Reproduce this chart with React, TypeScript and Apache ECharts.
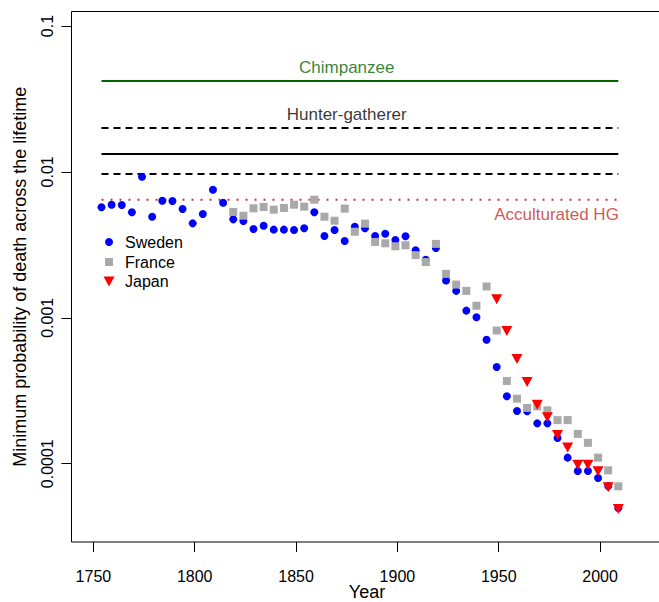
import React, { useEffect, useRef } from "react";
import * as echarts from "echarts";

// ---- data ----
const swedenYears = [
  1754, 1759, 1764, 1769, 1774, 1779, 1784, 1789, 1794, 1799,
  1804, 1809, 1814, 1819, 1824, 1829, 1834, 1839, 1844, 1849,
  1854, 1859, 1864, 1869, 1874, 1879, 1884, 1889, 1894, 1899,
  1904, 1909, 1914, 1919, 1924, 1929, 1934, 1939, 1944, 1949,
  1954, 1959, 1964, 1969, 1974, 1979, 1984, 1989, 1994, 1999,
  2004, 2009,
];
const swedenValues = [
  0.00572, 0.00596, 0.00593, 0.00529, 0.00927, 0.00493, 0.00635, 0.00632, 0.00557, 0.00444,
  0.00515, 0.00755, 0.00615, 0.00473, 0.00461, 0.00406, 0.00428, 0.00402, 0.00402, 0.004,
  0.00411, 0.00529, 0.00364, 0.004, 0.00336, 0.00421, 0.00411, 0.00364, 0.00377, 0.00341,
  0.00362, 0.0029, 0.0025, 0.00301, 0.0018, 0.00153, 0.00112, 0.00101, 0.000708, 0.00046,
  0.00029, 0.00023, 0.000229, 0.000189, 0.000189, 0.00015, 0.00011, 0.0000891, 0.0000891, 0.0000798,
  0.0000704, 0.0000497,
];

const franceYears = [
  1819, 1824, 1829, 1834, 1839, 1844, 1849, 1854, 1859, 1864,
  1869, 1874, 1879, 1884, 1889, 1894, 1899, 1904, 1909, 1914,
  1919, 1924, 1929, 1934, 1939, 1944, 1949, 1954, 1959, 1964,
  1969, 1974, 1979, 1984, 1989, 1994, 1999, 2004, 2009,
];
const franceValues = [
  0.00531, 0.00501, 0.00563, 0.00575, 0.00551, 0.00566, 0.00596, 0.00578, 0.00645, 0.00493,
  0.00463, 0.0056, 0.00389, 0.00442, 0.00331, 0.00324, 0.00309, 0.00314, 0.00269, 0.00241,
  0.00321, 0.002, 0.00169, 0.00153, 0.00121, 0.00164, 0.000818, 0.000369, 0.000279, 0.000241,
  0.000247, 0.000232, 0.000199, 0.000199, 0.00016, 0.000139, 0.00011, 0.0000901, 0.00007,
];

const japanYears = [1949, 1954, 1959, 1964, 1969, 1974, 1979, 1984, 1989, 1994, 1999, 2004, 2009];
const japanValues = [
  0.00134, 0.000812, 0.000522, 0.000363, 0.000254, 0.000208, 0.000157, 0.000129, 0.0000984,
  0.0000984, 0.0000887, 0.0000689, 0.0000489,
];

// reference levels
const refSpan = [1754, 2009];
const chimpanzeeLevel = 0.042;
const hunterGathererUpper = 0.02;
const hunterGathererMid = 0.01327;
const hunterGathererLower = 0.00967;
const acculturatedLevel = 0.00645;

const xTicks = [1750, 1800, 1850, 1900, 1950, 2000];
const yTicks = [0.0001, 0.001, 0.01, 0.1];

const FONT = "Liberation Sans, Arial, Helvetica, sans-serif";

function refLine(name: string, level: number, color: string, type: any) {
  return {
    name,
    type: "line",
    data: refSpan.map((y) => [y, level]),
    symbol: "none",
    silent: true,
    z: 1,
    lineStyle: { color, width: 2, type, cap: "butt" },
  };
}

export default function App() {
  const ref = useRef<HTMLDivElement>(null);
  useEffect(() => {
    const chart = echarts.init(ref.current!, null, { renderer: "svg" });
    const legendBase = {
      orient: "vertical",
      padding: 0,
      selectedMode: false,
    };
    const legendText = (pad: number) => ({
      color: "#000",
      fontSize: 16,
      fontFamily: FONT,
      padding: [0, 0, 0, pad],
    });
    chart.setOption({
      animation: false,
      textStyle: { fontFamily: FONT },
      grid: {
        left: 71.5,
        top: 11.5,
        width: 591,
        height: 530.5,
        outerBoundsMode: "none",
        containLabel: false,
        show: true,
        borderColor: "#000",
        borderWidth: 1,
        backgroundColor: "transparent",
      },
      xAxis: {
        type: "value",
        min: 1739.2,
        max: 2030.8,
        name: "Year",
        nameLocation: "middle",
        nameGap: 41,
        nameMoveOverlap: false,
        nameTextStyle: { color: "#000", fontSize: 18, fontFamily: FONT },
        axisLine: { show: false, onZero: false },
        splitLine: { show: false },
        axisTick: { show: true, length: 10, customValues: xTicks, lineStyle: { color: "#000", width: 1 } },
        axisLabel: {
          customValues: xTicks,
          color: "#000",
          fontSize: 16,
          margin: 26,
          fontFamily: FONT,
          formatter: (v: number) => String(v),
        },
      },
      yAxis: {
        type: "log",
        logBase: 10,
        min: Math.pow(10, -4.5367),
        max: Math.pow(10, -0.9006),
        name: "Minimum probability of death across the lifetime",
        nameLocation: "middle",
        nameRotate: 90,
        nameGap: 43,
        nameTextStyle: { color: "#000", fontSize: 18, fontFamily: FONT },
        axisLine: { show: false },
        splitLine: { show: false },
        axisTick: { show: true, length: 10, customValues: yTicks, lineStyle: { color: "#000", width: 1 } },
        axisLabel: {
          customValues: yTicks,
          rotate: 90,
          color: "#000",
          fontSize: 16,
          margin: 16,
          fontFamily: FONT,
          formatter: (v: number) => String(Number(v.toPrecision(3))),
        },
      },
      legend: [
        {
          ...legendBase,
          left: 105,
          top: 234,
          itemWidth: 8,
          itemHeight: 8,
          textStyle: legendText(7),
          data: [{ name: "Sweden", icon: "circle" }],
        },
        {
          ...legendBase,
          left: 105,
          top: 254,
          itemWidth: 8,
          itemHeight: 8,
          textStyle: legendText(7),
          data: [{ name: "France", icon: "path://M0,0L8,0L8,8L0,8Z" }],
        },
        {
          ...legendBase,
          left: 103.5,
          top: 273.5,
          itemWidth: 11,
          itemHeight: 10,
          textStyle: legendText(5.5),
          data: [{ name: "Japan", icon: "path://M0,0L11,0L5.5,10Z" }],
        },
      ],
      series: [
        refLine("chimp", chimpanzeeLevel, "#006400", "solid"),
        refLine("hg-upper", hunterGathererUpper, "#000", [7, 5]),
        refLine("hg-mid", hunterGathererMid, "#000", "solid"),
        refLine("hg-lower", hunterGathererLower, "#000", [7, 5]),
        refLine("acc", acculturatedLevel, "#CD3333", [2, 7]),
        {
          name: "labels",
          type: "scatter",
          symbolSize: 0,
          silent: true,
          z: 2,
          data: [
            {
              name: "Chimpanzee",
              value: [1875, chimpanzeeLevel],
              label: { show: true, position: "top", distance: 5, color: "#006400" },
            },
            {
              name: "Hunter-gatherer",
              value: [1875, hunterGathererUpper],
              label: { show: true, position: "top", distance: 5, color: "#000" },
            },
            {
              name: "Acculturated HG",
              value: [1978.5, acculturatedLevel],
              label: { show: true, position: "bottom", distance: 6, color: "#C82A2A" },
            },
          ],
          label: { formatter: "{b}", fontSize: 17, fontFamily: FONT },
        },
        {
          name: "Sweden",
          type: "scatter",
          symbol: "circle",
          symbolSize: 8,
          z: 3,
          itemStyle: { color: "#0000FF", opacity: 1 },
          data: swedenYears.map((y, i) => [y, swedenValues[i]]),
        },
        {
          name: "France",
          type: "scatter",
          symbol: "rect",
          symbolSize: 8,
          z: 4,
          itemStyle: { color: "#A9A9A9", opacity: 1 },
          data: franceYears.map((y, i) => [y, franceValues[i]]),
        },
        {
          name: "Japan",
          type: "scatter",
          symbol: "triangle",
          symbolSize: [11, 10],
          symbolRotate: 180,
          z: 5,
          itemStyle: { color: "#FF0000", opacity: 1 },
          data: japanYears.map((y, i) => [y, japanValues[i]]),
        },
      ],
    });
    return () => chart.dispose();
  }, []);
  return (
    <div
      ref={ref}
      style={{ position: "absolute", left: 0, top: 0, width: 659, height: 602 }}
    />
  );
}
